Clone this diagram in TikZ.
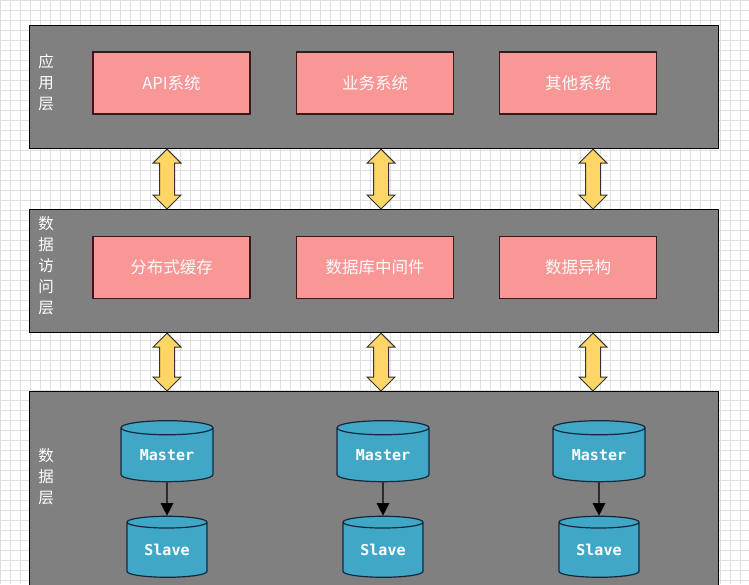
\documentclass[tikz,border=0pt]{standalone}
\usepackage{fontspec}
\newfontfamily\cjk{Noto Sans CJK SC}
\setmonofont{DejaVu Sans Mono}
\usetikzlibrary{arrows.meta, shapes.geometric, calc}
\definecolor{panelgray}{RGB}{128,128,128}
\definecolor{sysred}{RGB}{249,150,150}
\definecolor{sysedge}{RGB}{60,25,25}
\definecolor{dbblue}{RGB}{64,167,199}
\definecolor{dbedge}{RGB}{20,40,60}
\definecolor{arrowgold}{RGB}{255,214,102}
\definecolor{gridline}{RGB}{224,224,224}

\tikzset{
    layer/.style={draw=black, line width=1.2pt, fill=panelgray, anchor=north west,
        minimum width=689, minimum height=123, inner sep=0},
    layertag/.style={text=white, align=center, font=\cjk\fontsize{15.5}{21}\selectfont},
    sysbox/.style={draw=sysedge, line width=1.2pt, fill=sysred, minimum width=157,
        minimum height=62, text=white!95!sysred, font=\cjk\fontsize{16.5}{18}\selectfont},
    dbnode/.style={cylinder, shape border rotate=90, aspect=0.26, draw=dbedge,
        line width=1.2pt, fill=dbblue, minimum height=61, inner sep=0, text=white,
        font=\ttfamily\bfseries\fontsize{15}{16}\selectfont},
    master/.style={dbnode, minimum width=92},
    slave/.style={dbnode, minimum width=80},
    goldarrow/.style={draw=black!80, line width=1pt, fill=arrowgold, line join=miter},
    syncarrow/.style={black, line width=1.2pt, -{Triangle[length=12.5pt, width=12.5pt]}}
}

% two-headed block arrow between two panel edges, at x = #3
\newcommand{\dualarrow}[3]{%
    \path[goldarrow] let \p1=(#1), \p2=(#2) in
        (#3,\y1) -- (#3+14,\y1-14pt) -- (#3+7.5,\y1-14pt) -- (#3+7.5,\y2+14pt)
        -- (#3+14,\y2+14pt) -- (#3,\y2) -- (#3-14,\y2+14pt) -- (#3-7.5,\y2+14pt)
        -- (#3-7.5,\y1-14pt) -- (#3-14,\y1-14pt) -- cycle;
}

\begin{document}
\begin{tikzpicture}[x=1pt, y=-1pt]
    \clip (0,0) rectangle (749,584);
    \fill[white] (0,0) rectangle (749,584);
    \draw[gridline, step=10pt] (0,0) grid (749,584);

    % layers
    \node[layer] (app) at (29,25) {};
    \node[layer] (dal) at (29,209) {};
    \node[layer, minimum height=200] (data) at (29,391) {};
    \node[layertag] (apptag) at (46,83) {应\\用\\层};
    \node[layertag] (daltag) at (46,266) {数\\据\\访\\问\\层};
    \node[layertag] (datatag) at (46,477) {数\\据\\层};

    % systems
    \node[sysbox] (api) at (171.5,83) {API系统};
    \node[sysbox] (biz) at (375,83) {业务系统};
    \node[sysbox] (other) at (578,83) {其他系统};
    \node[sysbox] (cache) at (171.5,267.5) {分布式缓存};
    \node[sysbox] (dbmw) at (375,267.5) {数据库中间件};
    \node[sysbox] (hetero) at (578,267.5) {数据异构};

    % links between layers
    \foreach \ax in {167,381,593} {
        \dualarrow{app.south}{dal.north}{\ax}
        \dualarrow{dal.south}{data.north}{\ax}
    }

    % master / slave pairs
    \foreach \n/\cx in {1/167, 2/383, 3/599} {
        \node[master] (m\n) at (\cx,455) {Master};
        \node[slave] (s\n) at (\cx,550) {Slave};
        \draw[syncarrow] (m\n) -- (s\n);
    }
\end{tikzpicture}
\end{document}
